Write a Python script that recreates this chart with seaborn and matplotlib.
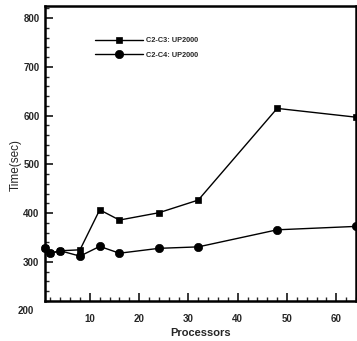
import numpy as np
import matplotlib
matplotlib.use("Agg")
from matplotlib import pyplot as plt
from matplotlib.ticker import MultipleLocator
import pandas as pd
import seaborn as sns

# processors used in the runs
processors = [1, 2, 4, 8, 12, 16, 24, 32, 48, 64]
# wall time (sec) for each configuration
time_c2_c3 = [328, 318, 323, 325, 407, 386, 401, 427, 615, 597]
time_c2_c4 = [328, 318, 323, 312, 332, 318, 328, 331, 366, 373]
series_names = ["C2-C3: UP2000", "C2-C4: UP2000"]

df = pd.DataFrame({
    "Processors": processors * 2,
    "Time": time_c2_c3 + time_c2_c4,
    "run": [series_names[0]] * len(processors) + [series_names[1]] * len(processors),
})

sns.set_style("ticks")
plt.rcParams["font.family"] = ["Liberation Sans", "DejaVu Sans"]
plt.rcParams["font.weight"] = "bold"

fig = plt.figure(figsize=(3.57, 3.41), dpi=100)
ax = fig.add_axes([45 / 357, 1 - 301 / 341, 311 / 357, 295 / 341])

sns.lineplot(data=df, x="Processors", y="Time", hue="run", style="run",
             markers={series_names[0]: "s", series_names[1]: "o"},
             dashes=False, palette=["black", "black"],
             linewidth=1.0, markeredgecolor="black", markeredgewidth=0.5,
             ax=ax, clip_on=False)
# circles a bit larger than squares
for line, ms in zip(ax.lines, [4.3, 6.0]):
    line.set_markersize(ms)

ax.set_xlim(0.9, 64)
ax.set_ylim(220, 825)
ax.set_yticks([300, 400, 500, 600, 700, 800])
ax.set_xticks([10, 20, 30, 40, 50, 60])
ax.xaxis.set_minor_locator(MultipleLocator(2))
ax.yaxis.set_minor_locator(MultipleLocator(20))
ax.tick_params(which="major", direction="in", length=6, width=1.3, labelsize=7, pad=4)
ax.tick_params(which="minor", direction="in", length=3, width=1.0)
ax.tick_params(axis="x", pad=9)
for lbl in ax.get_xticklabels() + ax.get_yticklabels():
    lbl.set_fontweight("bold")
# the stray "200" label below the axis corner
ax.text(-0.035, 200, "200", transform=ax.get_yaxis_transform(), ha="right",
        va="center", fontsize=7, fontweight="bold", clip_on=False)

for side in ["left", "bottom", "top", "right"]:
    ax.spines[side].set_linewidth(1.8)
    ax.spines[side].set_color("black")

ax.set_xlabel("Processors", fontsize=8, fontweight="bold", labelpad=3)
ax.set_ylabel("Time(sec)", fontsize=8.5, fontweight="normal")
ax.yaxis.set_label_coords(-0.075, 0.46)

handles, labels = ax.get_legend_handles_labels()
for h, ms in zip(handles, [4.3, 6.0]):
    h.set_markersize(ms)
ax.legend(handles, labels, loc="upper left", bbox_to_anchor=(0.16, 0.895),
          frameon=False, fontsize=5.3, handlelength=6.6, handletextpad=0.4,
          labelspacing=1.0, borderpad=0, borderaxespad=0)

fig.savefig("out.png", dpi=100)
